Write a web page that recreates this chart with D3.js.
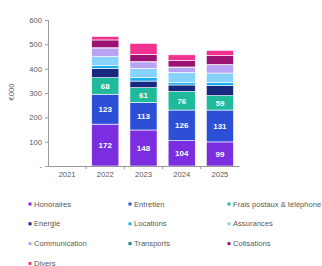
<!DOCTYPE html>
<html>
<head>
<meta charset="utf-8">
<script src="https://d3js.org/d3.v7.min.js"></script>
<style>
html, body { margin: 0; padding: 0; background: #fff; }
svg { display: block; font-family: "Liberation Sans", Arial, sans-serif; }
</style>
</head>
<body>
<script>
// donnees (en milliers d'euros)
var years = ["2021", "2022", "2023", "2024", "2025"];
var categories = ["Honoraires", "Entretien", "Frais postaux & téléphone", "Energie", "Locations",
  "Assurances", "Communication", "Transports", "Cotisations", "Divers"];
var honoraires = [0, 172, 148, 104, 99];
var entretien = [0, 123, 113, 126, 131];
var fraisPostaux = [0, 68, 61, 76, 59];
var energie = [0, 38, 27, 27, 41];
var locations = [0, 12, 15, 11, 14];
var assurances = [0, 38, 37, 41, 38];
var communication = [0, 34, 27, 21, 34];
var transports = [0, 1, 1, 1, 1];
var cotisations = [0, 32, 30, 27, 37];
var divers = [0, 14, 45, 23, 21];
var labelled = ["Honoraires", "Entretien", "Frais postaux & téléphone"];
var yTicks = [0, 100, 200, 300, 400, 500, 600];

var colors = ["#7a2ee0", "#2c4fd6", "#1fb99b", "#16297f", "#1aaeee", "#86d2fa",
  "#b9a3f3", "#16877a", "#9a1373", "#f2328f"];

var series = [honoraires, entretien, fraisPostaux, energie, locations, assurances,
  communication, transports, cotisations, divers];

var table = years.map(function(y, i) {
  var row = {year: y};
  categories.forEach(function(c, k) { row[c] = series[k][i]; });
  return row;
});

var width = 322, height = 266;
var svg = d3.select("body").append("svg")
  .attr("width", width)
  .attr("height", height);

var x = d3.scaleBand()
  .domain(years)
  .range([48, 239])
  .paddingInner(0.29)
  .paddingOuter(0.145);

var y = d3.scaleLinear()
  .domain([0, 600])
  .range([166, 20]);

var stack = d3.stack().keys(categories);
var layers = stack(table);

// barres empilees
var layer = svg.selectAll("g.layer")
  .data(layers)
  .enter().append("g")
  .attr("class", "layer")
  .attr("fill", function(d, i) { return colors[i]; });

layer.selectAll("rect")
  .data(function(d) { return d; })
  .enter().append("rect")
  .attr("x", function(d) { return x(d.data.year); })
  .attr("y", function(d) { return y(d[1]); })
  .attr("width", x.bandwidth())
  .attr("height", function(d) { return Math.max(0, y(d[0]) - y(d[1])); })
  .attr("stroke", "#fff")
  .attr("stroke-width", 0.6);

// etiquettes dans les barres
layers.forEach(function(l) {
  if (labelled.indexOf(l.key) < 0) return;
  svg.selectAll(null)
    .data(l.filter(function(d) { return d[1] - d[0] > 0; }))
    .enter().append("text")
    .attr("x", function(d) { return x(d.data.year) + x.bandwidth() / 2; })
    .attr("y", function(d) { return (y(d[0]) + y(d[1])) / 2; })
    .attr("dy", "0.35em")
    .attr("text-anchor", "middle")
    .attr("fill", "#fff")
    .attr("font-size", "8px")
    .attr("font-weight", "bold")
    .text(function(d) { return d[1] - d[0]; });
});

// axe y
var yAxis = svg.append("g")
  .attr("transform", "translate(48,0)")
  .call(d3.axisLeft(y).tickValues(yTicks).tickSize(3).tickPadding(3)
    .tickFormat(function(d) { return d === 0 ? "-" : d; }));
yAxis.select(".domain").attr("stroke", "#9a9a9a");
yAxis.selectAll(".tick line").attr("stroke", "#9a9a9a");
yAxis.selectAll("text").attr("fill", "#595959").attr("font-size", "7.6px");

// axe x
var xAxis = svg.append("g")
  .attr("transform", "translate(0,166)")
  .call(d3.axisBottom(x).tickSize(0).tickPadding(6));
xAxis.select(".domain").attr("stroke", "#9a9a9a");
xAxis.selectAll("text").attr("fill", "#595959").attr("font-size", "7.6px");

// petits traits entre les categories
svg.selectAll("line.sep")
  .data(years.slice(1))
  .enter().append("line")
  .attr("class", "sep")
  .attr("x1", function(d) { return x(d) - x.step() * x.paddingInner() / 2; })
  .attr("x2", function(d) { return x(d) - x.step() * x.paddingInner() / 2; })
  .attr("y1", 166)
  .attr("y2", 169)
  .attr("stroke", "#9a9a9a");

svg.append("text")
  .attr("transform", "translate(14,92) rotate(-90)")
  .attr("text-anchor", "middle")
  .attr("fill", "#595959")
  .attr("font-size", "7.6px")
  .text("€000");

// legende
var legend = svg.selectAll("g.leg")
  .data(categories)
  .enter().append("g")
  .attr("class", "leg")
  .attr("transform", function(d, i) {
    return "translate(" + [30, 130, 229][i % 3] + "," + (204 + Math.floor(i / 3) * 19.8) + ")";
  });

legend.append("rect")
  .attr("x", -1.5)
  .attr("y", -1.5)
  .attr("width", 3)
  .attr("height", 3)
  .attr("fill", function(d, i) { return colors[i]; });

legend.append("text")
  .attr("x", 4)
  .attr("dy", "0.35em")
  .attr("fill", "#595959")
  .attr("font-size", "7.6px")
  .text(function(d) { return d; });
</script>
</body>
</html>
